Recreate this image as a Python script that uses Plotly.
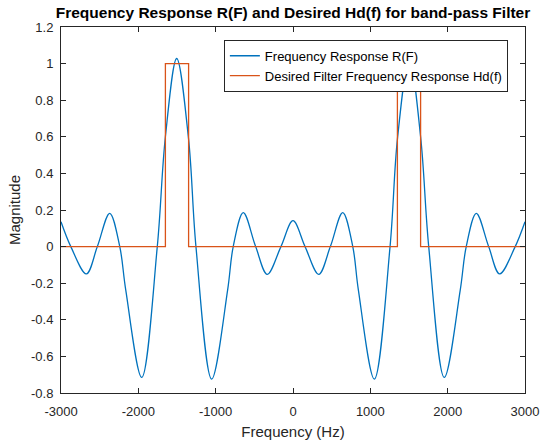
import plotly.graph_objects as go

# Frequency response R(F) (Hz, magnitude)
freq_r = [-3000, -2873, -2672, -2530, -2370, -2240, -2163, -1956, -1755, -1650, -1504,
          -1351, -1255, -1052, -845, -773, -643, -483, -333, -156, 0,
          156, 333, 483, 643, 773, 845, 1052, 1255, 1351, 1504, 1650, 1755, 1956,
          2163, 2240, 2370, 2530, 2672, 2873, 3000]
resp_r = [0.136, 0.0, -0.149, 0.0, 0.182, 0.0, -0.236, -0.715, 0.0, 0.60, 1.028,
          0.59, 0.0, -0.724, -0.236, 0.0, 0.186, 0.0, -0.152, 0.0, 0.142,
          0.0, -0.152, 0.0, 0.186, 0.0, -0.236, -0.724, 0.0, 0.59, 1.028, 0.60, 0.0, -0.715,
          -0.236, 0.0, 0.182, 0.0, -0.149, 0.0, 0.136]

# Desired band-pass response Hd(f)
freq_hd = [-3000, -1650, -1650, -1350, -1350, 1350, 1350, 1650, 1650, 3000]
resp_hd = [0, 0, 1, 1, 0, 0, 1, 1, 0, 0]

x_ticks = [-3000, -2000, -1000, 0, 1000, 2000, 3000]
y_ticks = [-0.8, -0.6, -0.4, -0.2, 0, 0.2, 0.4, 0.6, 0.8, 1, 1.2]
y_tick_text = ["-0.8", "-0.6", "-0.4", "-0.2", "0", "0.2", "0.4", "0.6", "0.8", "1", "1.2"]

font = "Liberation Sans, Arial, sans-serif"
axc = "#262626"

fig = go.Figure()
fig.add_trace(go.Scatter(x=freq_r, y=resp_r, mode="lines", name="Frequency Response R(F)",
                         line=dict(color="#0072BD", width=1.3, shape="spline", smoothing=1.0)))
fig.add_trace(go.Scatter(x=freq_hd, y=resp_hd, mode="lines",
                         name="Desired Filter Frequency Response Hd(f)",
                         line=dict(color="#D95319", width=1.3)))

axis_common = dict(showline=True, linecolor=axc, linewidth=1, mirror="ticks", automargin=False,
                   ticks="inside", ticklen=5, tickcolor=axc, showgrid=False, zeroline=False,
                   tickfont=dict(family=font, size=13, color=axc))

fig.update_layout(
    width=542, height=445,
    margin=dict(l=61, r=17, t=27, b=52),
    paper_bgcolor="white", plot_bgcolor="white",
    title=dict(text="<b>Frequency Response R(F) and Desired Hd(f) for band-pass Filter</b>",
               x=0.5, xref="paper", y=0.972, yref="container", yanchor="middle", xanchor="center",
               font=dict(family=font, size=15.5, color="black")),
    xaxis=dict(range=[-3000, 3000], tickvals=x_ticks, ticktext=[str(v) for v in x_ticks],
               ticklabelstandoff=6,
               title=dict(text="Frequency (Hz)", font=dict(family=font, size=15, color=axc), standoff=8),
               **axis_common),
    yaxis=dict(range=[-0.8, 1.2], tickvals=y_ticks, ticktext=y_tick_text,
               ticklabelstandoff=4,
               title=dict(text="Magnitude", font=dict(family=font, size=15, color=axc), standoff=6),
               **axis_common),
    legend=dict(x=0.351, y=0.965, xanchor="left", yanchor="top", bgcolor="white",
                bordercolor=axc, borderwidth=1, font=dict(family=font, size=13, color="black"),
                tracegroupgap=0, itemwidth=30),
    showlegend=True,
)

fig.write_html("out.html")
